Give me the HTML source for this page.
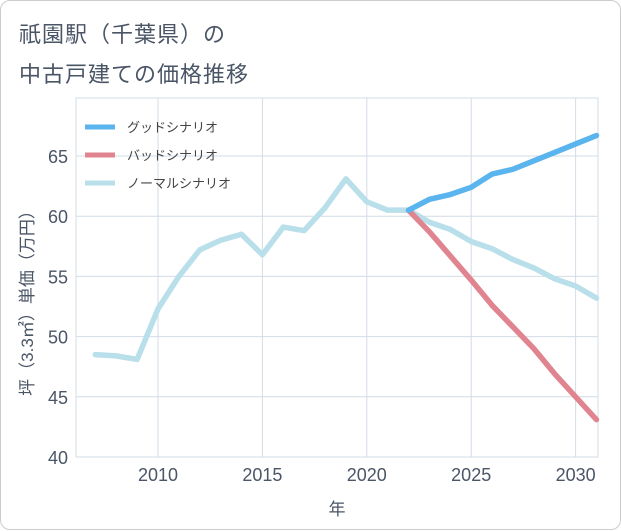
<!DOCTYPE html>
<html><head><meta charset="utf-8"><style>
body{margin:0;background:#fff;font-family:"Liberation Sans","Noto Sans CJK JP",sans-serif;}
#card{position:absolute;left:0;top:0;width:619px;height:528px;border:1px solid #ccc;border-radius:10px;background:#fff;}
.title{position:absolute;left:18px;font-size:22px;color:#4a5566;letter-spacing:1px;}
</style></head><body>
<div id="card">
<div class="title" style="top:16px">祇園駅（千葉県）の</div>
<div class="title" style="top:56px">中古戸建ての価格推移</div>
<svg id="chart" width="621" height="530" style="position:absolute;left:0;top:0"></svg>
</div>
<script>
const years=[2007,2008,2009,2010,2011,2012,2013,2014,2015,2016,2017,2018,2019,2020,2021,2022,2023,2024,2025,2026,2027,2028,2029,2030,2031];
const normal=[48.5,48.4,48.1,52.3,55.0,57.2,58.0,58.5,56.8,59.1,58.8,60.7,63.1,61.2,60.5,60.5,59.5,58.9,57.9,57.3,56.4,55.7,54.8,54.2,53.2];
const goodYears=[2022,2023,2024,2025,2026,2027,2028,2029,2030,2031];
const good=[60.5,61.4,61.8,62.4,63.5,63.9,64.6,65.3,66.0,66.7];
const bad=[60.5,58.7,56.7,54.7,52.6,50.8,49.0,46.9,45.0,43.1];
const yTicks=[40,45,50,55,60,65];
const xTicks=[2010,2015,2020,2025,2030];
const L=75,R=597,T=97,B=456;
const x=v=>157+(v-2010)*20.88;
const y=v=>456-(v-40)*12.04;
const svg=document.getElementById('chart');
const NS='http://www.w3.org/2000/svg';
function mk(t,a){const e=document.createElementNS(NS,t);for(const k in a)e.setAttribute(k,a[k]);svg.appendChild(e);return e;}
let bg=mk('rect',{x:L,y:T,width:R-L,height:B-T,fill:'#fff',stroke:'#d3dce6'});


yTicks.forEach(v=>{
 let g=mk('line',{x1:L,x2:R,y1:y(v),y2:y(v),stroke:'#d3dce6'});
 
 
 let t=mk('text',{x:L-8,y:y(v)+7,'text-anchor':'end','font-size':18,fill:'#4a5566'});t.textContent=v;
 
 
});
xTicks.forEach(v=>{
 let g=mk('line',{x1:x(v),x2:x(v),y1:T,y2:B,stroke:'#d3dce6'});
 
 
 let t=mk('text',{x:x(v),y:B+24,'text-anchor':'middle','font-size':18,fill:'#4a5566'});t.textContent=v;
 
 
});
let xt=mk('text',{x:336,y:514,'text-anchor':'middle','font-size':17,fill:'#4a5566'});xt.textContent='年';


let yt=mk('text',{x:0,y:0,'text-anchor':'middle','font-size':17,fill:'#4a5566',transform:'translate(32,298) rotate(-90)'});yt.textContent='坪（3.3㎡）単価（万円）';


function line(xs,vs,col,name){
 let p=mk('polyline',{points:vs.map((v,i)=>x(xs[i])+','+y(v)).join(' '),fill:'none',stroke:col,'stroke-width':5.5,'stroke-linejoin':'round','stroke-linecap':'round'});
 
 
}
line(years,normal,'#b8dfea','normal-scenario-line');
line(goodYears,bad,'#e0848f','bad-scenario-line');
line(goodYears,good,'#5ab4ee','good-scenario-line');
const legend=[['グッドシナリオ','#5ab4ee',126],['バッドシナリオ','#e0848f',154],['ノーマルシナリオ','#b8dfea',182]];
legend.forEach(l=>{
 let s=mk('line',{x1:84,x2:114,y1:l[2],y2:l[2],stroke:l[1],'stroke-width':5});
 
 
 let t=mk('text',{x:126,y:l[2]+5,'font-size':13,fill:'#444'});t.textContent=l[0];
 
 
});
</script>
</body></html>
